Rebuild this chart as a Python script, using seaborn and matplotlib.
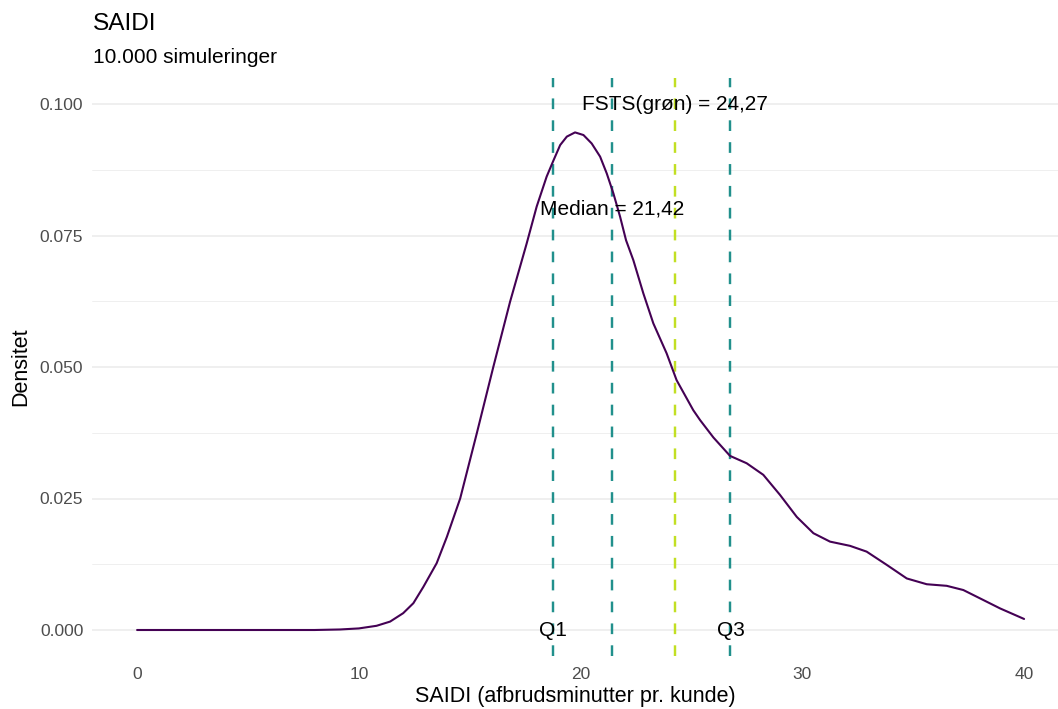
import matplotlib
matplotlib.use("Agg")
import matplotlib.pyplot as plt
import numpy as np
import pandas as pd
import seaborn as sns

# Kernel density of simulated SAIDI values (minutes per customer)
saidi_x = [0.0, 2.0, 4.0, 6.0, 8.0, 9.15, 10.0, 10.8, 11.41, 12.0, 12.46, 12.91,
           13.51, 13.97, 14.57, 15.32, 16.07, 16.82, 17.57, 18.02, 18.47, 18.77,
           19.08, 19.38, 19.75, 20.13, 20.5, 20.88, 21.18, 21.48, 21.78, 22.05,
           22.38, 22.83, 23.28, 23.88, 24.33, 25.08, 25.39, 25.99, 26.74, 27.49,
           28.24, 28.99, 29.75, 30.5, 31.25, 32.15, 32.9, 33.8, 34.71, 35.61,
           36.51, 37.26, 38.02, 38.92, 40.0]
densitet = [0.0, 0.0, 0.0, 0.0, 0.0, 0.0001, 0.0003, 0.0008, 0.0016, 0.0032,
            0.0051, 0.0082, 0.0127, 0.0177, 0.025, 0.0374, 0.0501, 0.0624,
            0.0735, 0.0805, 0.0862, 0.0892, 0.0922, 0.0938, 0.0946, 0.0941,
            0.0925, 0.09, 0.0868, 0.083, 0.0786, 0.0741, 0.0703, 0.064, 0.0583,
            0.0526, 0.0475, 0.0418, 0.0399, 0.0366, 0.0331, 0.0317, 0.0295,
            0.0257, 0.0215, 0.0184, 0.0168, 0.016, 0.0149, 0.0124, 0.0098,
            0.0087, 0.0084, 0.0076, 0.006, 0.0041, 0.0021]

# Summary statistics shown as reference lines
q1 = 18.77
median = 21.42
fsts = 24.27
q3 = 26.76

x_ticks = [0, 10, 20, 30, 40]
y_ticks = [0.0, 0.025, 0.05, 0.075, 0.1]
y_minor = [0.0125, 0.0375, 0.0625, 0.0875]

purple = "#440154"
teal = "#21908C"
lime = "#C2DF23"

sns.set_theme(style="white")
plt.rcParams["font.family"] = ["Liberation Sans", "DejaVu Sans"]

W, H = 1058, 709
fig = plt.figure(figsize=(W / 100, H / 100), dpi=100)
ax = fig.add_axes([92.3 / W, 52.7 / H, (W - 92.3) / W, (656.3 - 77.7) / H])

df = pd.DataFrame({"SAIDI": saidi_x, "Densitet": densitet})

# Grid lines (major and minor) in light grey
for yv in y_ticks:
    ax.axhline(yv, color="#EBEBEB", lw=1.1, zorder=0)
for yv in y_minor:
    ax.axhline(yv, color="#EBEBEB", lw=0.55, zorder=0)

sns.lineplot(data=df, x="SAIDI", y="Densitet", color=purple, lw=1.5, ax=ax,
             zorder=3)

dash = (0, (4.4, 4.6))
for xv, col in [(q1, teal), (median, teal), (fsts, lime), (q3, teal)]:
    ax.axvline(xv, color=col, lw=1.75, linestyle=dash, zorder=2)

ann_size = 15
ax.text(fsts, 0.1, "FSTS(grøn) = 24,27", ha="center", va="center",
        fontsize=ann_size, color="black", zorder=4)
ax.text(median, 0.08, "Median = 21,42", ha="center", va="center",
        fontsize=ann_size, color="black", zorder=4)
ax.text(q1, 0.0, "Q1", ha="center", va="center", fontsize=ann_size,
        color="black", zorder=4)
ax.text(q3, 0.0, "Q3", ha="center", va="center", fontsize=ann_size,
        color="black", zorder=4)

ax.set_xlim(-2.02, 41.53)
ax.set_ylim(-0.005, 0.105)
ax.set_xticks(x_ticks)
ax.set_xticklabels([str(v) for v in x_ticks])
ax.set_yticks(y_ticks)
ax.set_yticklabels([f"{v:.3f}" for v in y_ticks])
ax.tick_params(axis="both", length=0, labelsize=12.5, labelcolor="#4D4D4D")
ax.tick_params(axis="y", pad=6.5)
ax.tick_params(axis="x", pad=7.5)
ax.grid(False)
for s in ax.spines.values():
    s.set_visible(False)

ax.set_xlabel("SAIDI (afbrudsminutter pr. kunde)", fontsize=15.5,
              color="black", labelpad=3)
ax.set_ylabel("Densitet", fontsize=15.5, color="black", labelpad=6)

fig.text(92.7 / W, 1 - 30 / H, "SAIDI", fontsize=17.6, color="black",
         ha="left", va="baseline")
fig.text(92.7 / W, 1 - 63 / H, "10.000 simuleringer", fontsize=15,
         color="black", ha="left", va="baseline")

fig.savefig("out.png", dpi=100)
